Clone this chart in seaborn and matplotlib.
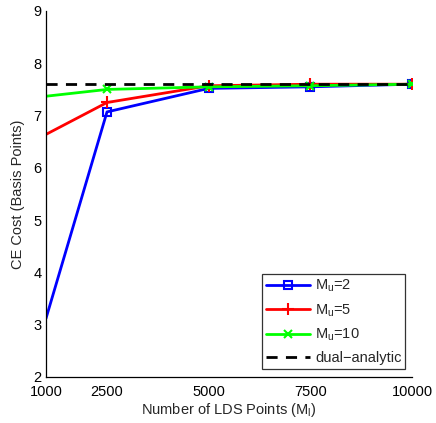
import matplotlib
matplotlib.use("Agg")
import matplotlib.pyplot as plt
import seaborn as sns
import pandas as pd

# Convergence of CE cost with the number of LDS points
lds_points = [1000, 2500, 5000, 7500, 10000]
cost_mu2 = [3.12, 7.07, 7.52, 7.55, 7.60]
cost_mu5 = [6.64, 7.25, 7.57, 7.60, 7.60]
cost_mu10 = [7.37, 7.50, 7.55, 7.57, 7.60]
dual_analytic = 7.61

series_labels = ["M$_u$=2", "M$_u$=5", "M$_u$=10"]
x_ticks = [1000, 2500, 5000, 7500, 10000]
y_ticks = [2, 3, 4, 5, 6, 7, 8, 9]

sns.set_style("white")
plt.rcParams["font.family"] = ["Liberation Sans", "DejaVu Sans"]
plt.rcParams["mathtext.fontset"] = "custom"
plt.rcParams["mathtext.rm"] = "Liberation Sans"
plt.rcParams["mathtext.it"] = "Liberation Sans"

fig = plt.figure(figsize=(4.36, 4.23), dpi=100)
ax = fig.add_axes([46 / 436, 1 - 377 / 423, 366 / 436, 366 / 423])

df = pd.DataFrame({
    "points": lds_points * 3,
    "cost": cost_mu2 + cost_mu5 + cost_mu10,
    "series": sum([[s] * len(lds_points) for s in series_labels], []),
})

styles = {
    series_labels[0]: dict(color=(0, 0, 1), marker="s", mfc="none", ms=6, mew=1.5),
    series_labels[1]: dict(color=(1, 0, 0), marker="+", ms=8, mew=1.5),
    series_labels[2]: dict(color=(0, 1, 0), marker="x", ms=6, mew=1.5),
}
for name in series_labels:
    sub = df[df["series"] == name]
    st = styles[name]
    sns.lineplot(data=sub, x="points", y="cost", ax=ax, color=st["color"],
                 marker=st["marker"], markersize=st["ms"],
                 markerfacecolor=st.get("mfc", st["color"]),
                 markeredgecolor=st["color"], markeredgewidth=st["mew"],
                 markevery=[1, 2, 3, 4],
                 linewidth=2, label=name)

ax.plot([lds_points[0], lds_points[-1]], [dual_analytic, dual_analytic],
        color="black", linestyle=(0, (4, 3)), linewidth=2,
        label="dual\u2212analytic")

ax.set_xlim(1000, 10000)
ax.set_ylim(2, 9)
ax.set_xticks(x_ticks)
ax.set_yticks(y_ticks)
ax.set_xticklabels([str(t) for t in x_ticks])
ax.set_yticklabels([str(t) for t in y_ticks])
ax.tick_params(direction="in", length=4, width=0.8, labelsize=10.5,
               colors="black", pad=3)
ax.tick_params(axis="x", pad=6)

for side in ["top", "right"]:
    ax.spines[side].set_visible(False)
for side in ["left", "bottom"]:
    ax.spines[side].set_color("black")
    ax.spines[side].set_linewidth(0.9)

ax.set_xlabel("Number of LDS Points (M$_l$)", fontsize=10.5, labelpad=1)
ax.set_ylabel("CE Cost (Basis Points)", fontsize=10.5, labelpad=6)

leg = ax.legend(loc="lower right", bbox_to_anchor=(0.981, 0.022),
                borderaxespad=0, fontsize=10.5, frameon=True, fancybox=False,
                handlelength=3.0, handletextpad=0.35, labelspacing=0.55,
                borderpad=0.25)
leg.get_frame().set_edgecolor("black")
leg.get_frame().set_linewidth(0.9)

fig.savefig("out.png", dpi=100)
